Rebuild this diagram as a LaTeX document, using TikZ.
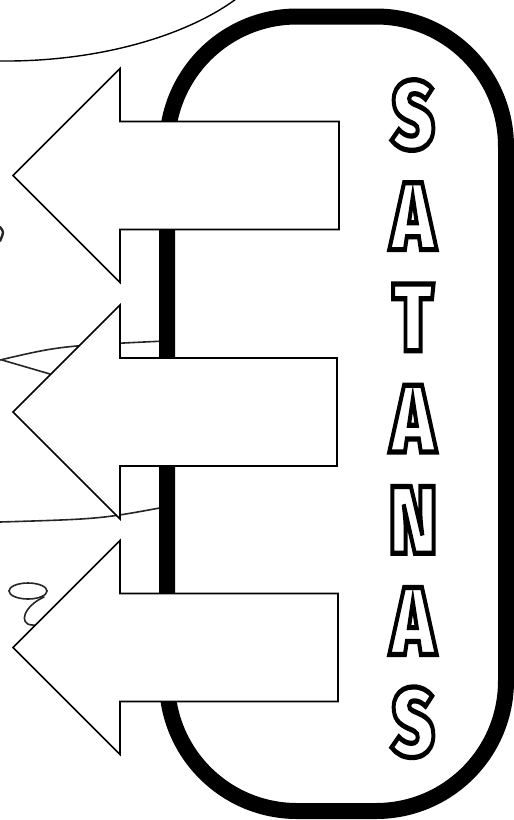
\documentclass[tikz,border=0pt]{standalone}
\usepackage{fontspec}
\setmainfont{Liberation Sans}
\newfontfamily\signfont{Fira Sans Black}
\usepackage{xcolor}
\usepackage{graphicx}
\usepackage{tikz}
\newcommand{\hollow}[1]{\special{pdf:literal direct 1 Tr 5.2 w}#1\special{pdf:literal direct 0 Tr}}
\tikzset{
  frame/.style={draw=black, line width=16pt, rounded corners=130pt},
  bigarrow/.style={draw=black, fill=white, line width=1.6pt, line join=miter},
  scribble/.style={draw=black!85, line width=1.6pt, line cap=round},
  letter/.style={inner sep=0pt, font=\signfont\fontsize{96}{96}\selectfont},
}

\begin{document}
\begin{tikzpicture}[x=1pt, y=-1pt]
  \useasboundingbox (0,0) rectangle (514,820);
  \draw[scribble, black, line width=1.4pt] (0,61) .. controls (100,62) and (190,35) .. (240,-4);
  \draw[scribble, line width=2.4pt] (0,227) .. controls (4,232) .. (0,241);
  \draw[scribble] (0,360) .. controls (60,346) .. (165,341);
  \draw[scribble] (2,360) -- (50,374);
  \draw[scribble] (0,522) .. controls (100,519) .. (165,507);
  \draw[scribble] (28,591) ellipse [x radius=19, y radius=8];
  \draw[scribble] (44,597) .. controls (24,606) and (18,624) .. (32,625) .. controls (42,626) .. (58,606);
  \draw[frame] (167,16.5) rectangle (506,811);
  \foreach \yc/\xe in {175.5/339, 412/337, 647.5/338}
    \draw[bigarrow] (\xe,\yc-54) -- (120,\yc-54) -- (120,\yc-107) -- (13,\yc)
      -- (120,\yc+107) -- (120,\yc+54) -- (\xe,\yc+54) -- cycle;
  \foreach \ch [count=\i] in {S,A,T,A,N,A,S}
    \node[letter] (ch\i) at (413,{115+101.2*(\i-1)})
      {\scalebox{0.76}[1]{\hollow{\ch}}};
\end{tikzpicture}
\end{document}
